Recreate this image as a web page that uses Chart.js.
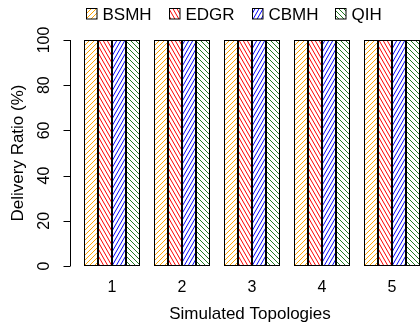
<!DOCTYPE html>
<html>
<head>
<meta charset="utf-8">
<script src="https://cdn.jsdelivr.net/npm/chart.js@4"></script>
<style>
  html, body { margin: 0; padding: 0; overflow: hidden; background: #fff; }
  canvas { display: block; }
</style>
</head>
<body>
<canvas id="chart" width="430" height="326" style="width:430px;height:326px"></canvas>
<script>
// Données du graphique
const categories = ['1', '2', '3', '4', '5'];
const seriesNames = ['BSMH', 'EDGR', 'CBMH', 'QIH'];
const bsmhValues = [100, 100, 100, 100, 100];
const edgrValues = [100, 100, 100, 100, 100];
const cbmhValues = [100, 100, 100, 100, 100];
const qihValues = [100, 100, 100, 100, 100];
const yTicks = [0, 20, 40, 60, 80, 100];
const xTitle = 'Simulated Topologies';
const yTitle = 'Delivery Ratio (%)';

const FONT = '"Liberation Sans", Arial, Helvetica, sans-serif';

// Créer un motif hachuré (dir = '/' ou '\\')
function hatch(color, dir, w, h) {
    const c = document.createElement('canvas');
    c.width = w;
    c.height = h;
    const g = c.getContext('2d');
    g.fillStyle = '#fff';
    g.fillRect(0, 0, w, h);
    g.strokeStyle = color;
    g.lineWidth = 1;
    for (let k = -1; k <= 1; k++) {
        g.beginPath();
        if (dir === '/') {
            g.moveTo(k * w, h);
            g.lineTo(k * w + w, 0);
        } else {
            g.moveTo(k * w, 0);
            g.lineTo(k * w + w, h);
        }
        g.stroke();
    }
    const ctx = document.getElementById('chart').getContext('2d');
    return ctx.createPattern(c, 'repeat');
}

const patterns = [
    hatch('#FFA500', '/', 5, 5),
    hatch('#FF0000', '\\', 4, 7),
    hatch('#0000FF', '/', 4, 7),
    hatch('#1f7a1f', '\\', 5, 5)
];
const allValues = [bsmhValues, edgrValues, cbmhValues, qihValues];

// Axes, textes et légende façon R
const axesPlugin = {
    id: 'rAxes',
    afterDraw(chart) {
        const ctx = chart.ctx;
        const xs = chart.scales.x;
        const ys = chart.scales.y;
        const area = chart.chartArea;
        ctx.save();
        ctx.fillStyle = '#000';
        ctx.strokeStyle = '#000';
        ctx.lineWidth = 1;

        // Axe Y
        const axX = 70.5;
        const yTop = ys.getPixelForValue(yTicks[yTicks.length - 1]);
        const yBot = ys.getPixelForValue(yTicks[0]);
        ctx.beginPath();
        ctx.moveTo(axX, yTop);
        ctx.lineTo(axX, yBot);
        yTicks.forEach(v => {
            const py = Math.round(ys.getPixelForValue(v)) + 0.5;
            ctx.moveTo(axX - 7, py);
            ctx.lineTo(axX, py);
        });
        ctx.stroke();

        ctx.font = '16px ' + FONT;
        ctx.textAlign = 'center';
        ctx.textBaseline = 'alphabetic';
        yTicks.forEach(v => {
            const py = ys.getPixelForValue(v);
            ctx.save();
            ctx.translate(48.5, py);
            ctx.rotate(-Math.PI / 2);
            ctx.fillText(String(v), 0, 0);
            ctx.restore();
        });

        // Étiquettes X
        categories.forEach((c, i) => {
            ctx.fillText(c, xs.getPixelForValue(i), 292);
        });

        // Titres
        ctx.font = '17px ' + FONT;
        ctx.fillText(xTitle, 250, 319);
        ctx.save();
        ctx.translate(22.5, (area.top + area.bottom) / 2);
        ctx.rotate(-Math.PI / 2);
        ctx.fillText(yTitle, 0, 0);
        ctx.restore();

        // Légende
        ctx.textAlign = 'left';
        seriesNames.forEach((name, i) => {
            const bx = 86 + i * 83;
            ctx.fillStyle = patterns[i];
            ctx.fillRect(bx, 8, 11, 11);
            ctx.strokeStyle = '#000';
            ctx.strokeRect(bx + 0.5, 8.5, 10.5, 10.5);
            ctx.fillStyle = '#000';
            ctx.fillText(name, bx + 16.5, 19.5);
        });
        ctx.restore();
    }
};

new Chart(document.getElementById('chart'), {
    type: 'bar',
    data: {
        labels: categories,
        datasets: seriesNames.map((name, i) => ({
            label: name,
            data: allValues[i],
            backgroundColor: patterns[i],
            borderColor: '#000',
            borderWidth: 1,
            borderSkipped: false,
            categoryPercentage: 0.8,
            barPercentage: 1.0
        }))
    },
    options: {
        responsive: false,
        animation: false,
        devicePixelRatio: 1,
        layout: { padding: { left: 77, right: 3, top: 40, bottom: 60 } },
        plugins: {
            legend: { display: false },
            tooltip: { enabled: false }
        },
        scales: {
            x: { display: false },
            y: { display: false, min: 0, max: 100 }
        }
    },
    plugins: [axesPlugin]
});
</script>
</body>
</html>
